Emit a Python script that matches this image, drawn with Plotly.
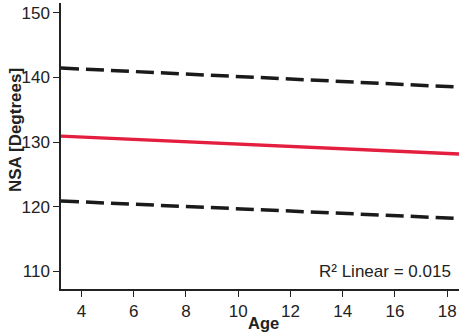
import plotly.graph_objects as go

age = [3.22, 18.45]
fit = [130.94, 128.16]
upper = [141.45, 138.5]
lower = [120.9, 118.2]
x_ticks = [4, 6, 8, 10, 12, 14, 16, 18]
y_ticks = [110, 120, 130, 140, 150]
r2_label = "R² Linear = 0.015"
x_title = "Age"
y_title = "NSA [Degtrees]"

fig = go.Figure()
fig.add_trace(go.Scatter(x=age, y=upper, mode="lines",
                         line=dict(color="#1a1a1a", width=3.5, dash="18px,7px")))
fig.add_trace(go.Scatter(x=age, y=lower, mode="lines",
                         line=dict(color="#1a1a1a", width=3.5, dash="18px,7px")))
fig.add_trace(go.Scatter(x=age, y=fit, mode="lines",
                         line=dict(color="#e41e3f", width=3.3)))

font = "Liberation Sans, Arial, sans-serif"
fig.update_layout(
    width=459, height=335,
    margin=dict(l=61, r=0, t=3, b=46, autoexpand=False),
    plot_bgcolor="white", paper_bgcolor="white",
    showlegend=False,
    font=dict(family=font, size=17, color="#222"),
    xaxis=dict(range=[3.22, 18.45], tickvals=x_ticks, showgrid=False, zeroline=False,
               showline=True, linecolor="#222", linewidth=1.5, ticks="outside",
               ticklen=6, tickcolor="#222", automargin=False, tickfont=dict(size=17)),
    yaxis=dict(range=[107.3, 151.5], tickvals=y_ticks, showgrid=False, zeroline=False,
               showline=True, linecolor="#222", linewidth=1.5, ticks="outside",
               ticklen=6, tickcolor="#222", automargin=False, tickfont=dict(size=17)),
    annotations=[
        dict(x=0.985, y=0.06, xref="paper", yref="paper", text=r2_label,
             showarrow=False, xanchor="right", yanchor="middle",
             font=dict(size=17, color="#222")),
        dict(x=0.509, y=-0.119, xref="paper", yref="paper", text="<b>" + x_title + "</b>",
             showarrow=False, xanchor="center", yanchor="middle",
             font=dict(size=16.5, color="#222")),
        dict(x=-0.113, y=0.556, xref="paper", yref="paper", text="<b>" + y_title + "</b>",
             showarrow=False, xanchor="center", yanchor="middle", textangle=-90,
             font=dict(size=17, color="#222")),
    ],
)
fig.write_html("out.html", config={"displayModeBar": False},
               post_script="document.body.style.margin='0px';document.body.style.overflow='hidden';")
